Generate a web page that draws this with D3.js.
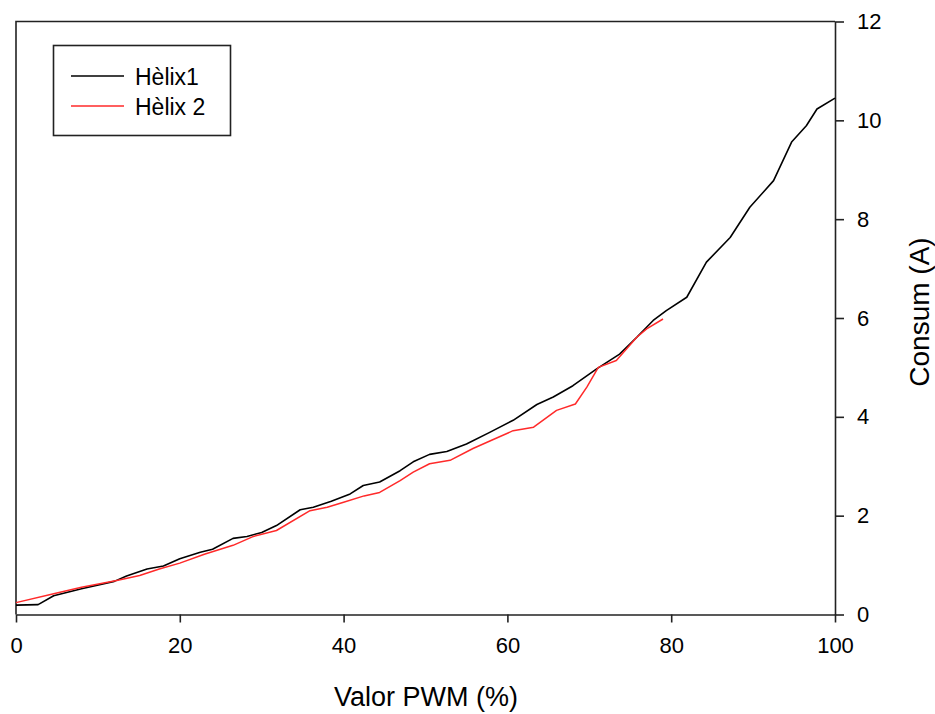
<!DOCTYPE html>
<html>
<head>
<meta charset="utf-8">
<script src="https://cdn.jsdelivr.net/npm/d3@7"></script>
<style>
  html, body { margin: 0; padding: 0; background: #fff; }
  svg { display: block; }
  text { font-family: Arial, "Liberation Sans", sans-serif; fill: #000; }
</style>
</head>
<body>
<svg id="chart" width="935" height="714"></svg>
<script>
// ---- data ----
const helix1X = [0, 2.7, 4.6, 8, 12, 13.5, 16, 18, 20, 22.5, 24, 26.5, 28.2, 30, 31.8, 34.7, 36.3, 38.5, 40.8, 42.4, 44.4, 46.9, 48.5, 50.5, 52.6, 55, 57.9, 60.7, 63.6, 65.6, 68, 70.9, 73.7, 75.8, 77.8, 79.4, 81.9, 84.3, 87.2, 89.6, 92.5, 94.7, 96.5, 97.8, 100];
const helix1Y = [0.19, 0.2, 0.38, 0.52, 0.67, 0.78, 0.92, 0.98, 1.13, 1.26, 1.32, 1.54, 1.58, 1.66, 1.80, 2.12, 2.17, 2.29, 2.44, 2.61, 2.68, 2.91, 3.09, 3.24, 3.30, 3.45, 3.69, 3.93, 4.25, 4.40, 4.63, 4.97, 5.27, 5.61, 5.95, 6.15, 6.42, 7.13, 7.63, 8.24, 8.78, 9.56, 9.89, 10.23, 10.45];
const helix2X = [0, 4.6, 8, 12.3, 15.1, 17.5, 20, 23, 26.5, 29, 31.8, 35.9, 38, 40, 42.5, 44.4, 46.9, 48.5, 50.5, 53, 55.8, 58, 60.7, 63.2, 66, 68.3, 69.7, 71.1, 73.3, 75.8, 77, 79];
const helix2Y = [0.24, 0.42, 0.55, 0.69, 0.79, 0.92, 1.04, 1.22, 1.40, 1.58, 1.70, 2.10, 2.17, 2.27, 2.40, 2.47, 2.71, 2.88, 3.05, 3.12, 3.36, 3.52, 3.72, 3.79, 4.13, 4.26, 4.60, 5.00, 5.14, 5.61, 5.78, 5.98];
const xTicks = [0, 20, 40, 60, 80, 100];
const yTicks = [0, 2, 4, 6, 8, 10, 12];
const seriesNames = ["Hèlix1", "Hèlix 2"];
const seriesColors = ["#000000", "#ff2a2a"];
const xTitle = "Valor PWM (%)";
const yTitle = "Consum (A)";

// ---- layout ----
const L = 16, R = 835, T = 21.5, B = 614.5;
const svg = d3.select("#chart");
const x = d3.scaleLinear().domain([0, 100]).range([L, R]);
const y = d3.scaleLinear().domain([0, 12]).range([B, T]);

// frame (left + top)
svg.append("path")
  .attr("d", `M${L},${B}V${T}H${R}`)
  .attr("fill", "none").attr("stroke", "#222").attr("stroke-width", 1.6);

// bottom axis
const gx = svg.append("g").attr("transform", `translate(0,${B})`)
  .call(d3.axisBottom(x).tickValues(xTicks).tickSize(8).tickSizeOuter(0).tickPadding(15).tickFormat(d3.format("d")));
gx.selectAll("path.domain, line").attr("stroke", "#222").attr("stroke-width", 1.6);
gx.selectAll("text").attr("font-size", 22).attr("fill", "#000")
  .style("font-family", "Arial, 'Liberation Sans', sans-serif");

// right axis
const gy = svg.append("g").attr("transform", `translate(${R},0)`)
  .call(d3.axisRight(y).tickValues(yTicks).tickSize(9).tickSizeOuter(0).tickPadding(13).tickFormat(d3.format("d")));
gy.selectAll("path.domain, line").attr("stroke", "#222").attr("stroke-width", 1.6);
gy.selectAll("text").attr("font-size", 22).attr("fill", "#000")
  .style("font-family", "Arial, 'Liberation Sans', sans-serif");

// lines
const line = d3.line().x(d => x(d[0])).y(d => y(d[1]));
const s1 = helix1X.map((v, i) => [v, helix1Y[i]]);
const s2 = helix2X.map((v, i) => [v, helix2Y[i]]);
svg.append("path").datum(s1).attr("d", line)
  .attr("fill", "none").attr("stroke", seriesColors[0]).attr("stroke-width", 1.6).attr("stroke-linejoin", "round");
svg.append("path").datum(s2).attr("d", line)
  .attr("fill", "none").attr("stroke", seriesColors[1]).attr("stroke-width", 1.5).attr("stroke-linejoin", "round");

// legend
svg.append("rect").attr("x", 53.5).attr("y", 45.5).attr("width", 177).attr("height", 90)
  .attr("fill", "#fff").attr("stroke", "#222").attr("stroke-width", 1.6);
seriesNames.forEach((name, i) => {
  const ly = 76 + i * 30;
  svg.append("line").attr("x1", 71).attr("x2", 124).attr("y1", ly).attr("y2", ly)
    .attr("stroke", seriesColors[i]).attr("stroke-width", 1.6);
  svg.append("text").attr("x", 135).attr("y", ly + 9).attr("font-size", 23).text(name);
});

// titles
svg.append("text").attr("x", 426).attr("y", 706).attr("text-anchor", "middle")
  .attr("font-size", 27).text(xTitle);
svg.append("text").attr("transform", "translate(929,312) rotate(-90)")
  .attr("text-anchor", "middle").attr("font-size", 28).text(yTitle);
</script>
</body>
</html>
